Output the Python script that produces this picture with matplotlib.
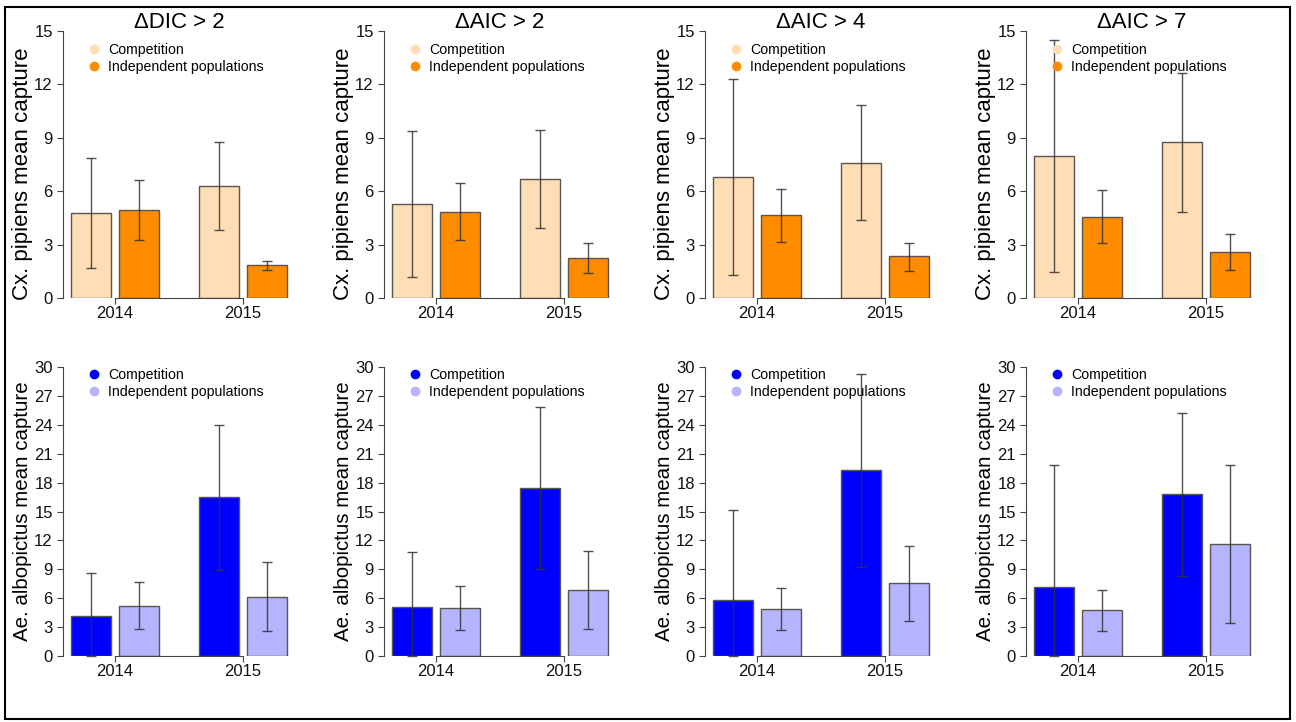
import matplotlib
matplotlib.use("Agg")
import matplotlib.pyplot as plt
from matplotlib.patches import Rectangle
from matplotlib.lines import Line2D

plt.rcParams['font.family'] = ['Liberation Sans', 'DejaVu Sans']

# panel titles and groups
titles = ["ΔDIC > 2", "ΔAIC > 2", "ΔAIC > 4", "ΔAIC > 7"]
years = ["2014", "2015"]
series_names = ["Competition", "Independent populations"]

# Cx. pipiens (top row): per panel [2014, 2015]
cx_comp = [[4.77, 6.27], [5.27, 6.70], [6.79, 7.59], [8.00, 8.75]]
cx_comp_lo = [[1.68, 3.83], [1.16, 3.91], [1.31, 4.36], [1.46, 4.84]]
cx_comp_hi = [[7.85, 8.75], [9.41, 9.46], [12.31, 10.85], [14.51, 12.64]]
cx_ind = [[4.96, 1.83], [4.84, 2.24], [4.64, 2.34], [4.56, 2.58]]
cx_ind_lo = [[3.27, 1.59], [3.27, 1.38], [3.14, 1.53], [3.07, 1.57]]
cx_ind_hi = [[6.64, 2.09], [6.45, 3.07], [6.15, 3.10], [6.04, 3.57]]

# Ae. albopictus (bottom row)
ae_comp = [[4.14, 16.47], [5.04, 17.47], [5.80, 19.30], [7.21, 16.78]]
ae_comp_lo = [[0.0, 8.91], [0.0, 9.08], [0.0, 9.25], [0.0, 8.28]]
ae_comp_hi = [[8.60, 23.99], [10.80, 25.85], [15.12, 29.24], [19.78, 25.27]]
ae_ind = [[5.21, 6.11], [4.97, 6.87], [4.87, 7.53], [4.76, 11.60]]
ae_ind_lo = [[2.80, 2.55], [2.66, 2.80], [2.69, 3.66], [2.59, 3.42]]
ae_ind_hi = [[7.73, 9.73], [7.28, 10.94], [7.04, 11.39], [6.87, 19.78]]

W, H = 1296, 722
fig = plt.figure(figsize=(W / 100, H / 100), dpi=100)

rows = [
    dict(comp=cx_comp, comp_lo=cx_comp_lo, comp_hi=cx_comp_hi,
         ind=cx_ind, ind_lo=cx_ind_lo, ind_hi=cx_ind_hi,
         colors=["#FFDDB5", "#FF8C00"], ymax=15,
         ylabel="Cx. pipiens mean capture", bottom=298, height=267,
         labsize=16, laby=0.464, leg_top=0.954),
    dict(comp=ae_comp, comp_lo=ae_comp_lo, comp_hi=ae_comp_hi,
         ind=ae_ind, ind_lo=ae_ind_lo, ind_hi=ae_ind_hi,
         colors=["#0000FF", "#B4B4FF"], ymax=30,
         ylabel="Ae. albopictus mean capture", bottom=656, height=289,
         labsize=14.8, laby=0.5, leg_top=0.995),
]

comp_x = [1.5, 4.7]
ind_x = [2.7, 5.9]
group_x = [2.1, 5.3]
ax_w = 233.3

for r, row in enumerate(rows):
    for c in range(4):
        left = 62.5 + 321 * c
        ax = fig.add_axes([left / W, (H - row["bottom"]) / H, ax_w / W, row["height"] / H])
        ec = "#5a5550"
        ax.bar(comp_x, row["comp"][c], width=1, color=row["colors"][0], edgecolor=ec, linewidth=1)
        ax.bar(ind_x, row["ind"][c], width=1, color=row["colors"][1], edgecolor=ec, linewidth=1)
        for xs, m, lo, hi in [(comp_x, row["comp"][c], row["comp_lo"][c], row["comp_hi"][c]),
                              (ind_x, row["ind"][c], row["ind_lo"][c], row["ind_hi"][c])]:
            err = [[mm - l for mm, l in zip(m, lo)], [h - mm for mm, h in zip(m, hi)]]
            ax.errorbar(xs, m, yerr=err, fmt="none", ecolor="#333333", alpha=0.85,
                        elinewidth=1, capsize=3.5, capthick=1, clip_on=False)

        ax.set_xlim(0.784, 6.616)
        ax.set_ylim(0, row["ymax"])
        ax.set_yticks(range(0, row["ymax"] + 1, 3))
        ax.set_xticks(group_x)
        ax.set_xticklabels(years)
        for s in ["top", "right"]:
            ax.spines[s].set_visible(False)
        ax.spines["bottom"].set_bounds(group_x[0], group_x[1])
        ax.spines["left"].set_color("#444444")
        ax.spines["bottom"].set_color("#444444")
        ax.tick_params(axis="both", labelsize=12, length=4, color="#444444", labelcolor="#111111")
        ax.tick_params(axis="y", pad=3)
        ax.tick_params(axis="x", pad=2)
        ax.patch.set_alpha(0)

        ax.set_ylabel(row["ylabel"], fontsize=row["labsize"])
        ax.yaxis.set_label_coords(-40 / ax_w, row["laby"])
        ax.yaxis.label.set_va("center")

        if r == 0:
            ax.set_title(titles[c], fontsize=16, y=(298 - 22.7) / 267, va="center", pad=0)

        handles = [Line2D([], [], marker="o", linestyle="none", markersize=6,
                          markerfacecolor=col, markeredgecolor=col)
                   for col in row["colors"]]
        ax.legend(handles, series_names, loc="upper left",
                  bbox_to_anchor=(0.111, row["leg_top"]), frameon=False, fontsize=10.2,
                  handlelength=0.8, handletextpad=0.6, labelspacing=0.2,
                  borderpad=0, borderaxespad=0)

fig.patches.append(Rectangle((5 / W, 3 / H), 1285 / W, 712 / H, transform=fig.transFigure,
                             fill=False, edgecolor="black", linewidth=1.5))

fig.savefig("out.png", dpi=100)
